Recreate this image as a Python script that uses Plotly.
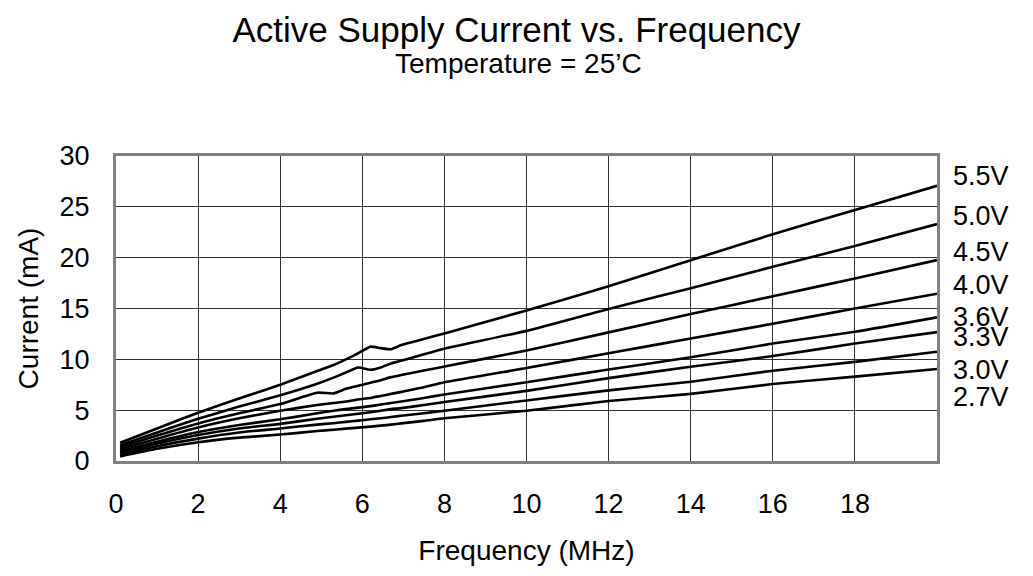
import plotly.graph_objects as go

# frequency points (MHz), shared by all curves
freq = [0.1, 1, 2, 3, 4, 4.9, 5.3, 5.6, 5.9, 6.2, 6.45, 6.7, 6.95, 7.5, 8,
        10, 12, 14, 16, 18, 20]

# supply current (mA) per Vcc
i_55 = [1.8, 3.2, 4.75, 6.15, 7.5, 8.85, 9.45, 10.0, 10.6, 11.25, 11.1, 11.0, 11.4,
        12.0, 12.55, 14.8, 17.2, 19.75, 22.3, 24.7, 27.07]
i_50 = [1.55, 2.8, 4.15, 5.35, 6.46, 7.6, 8.2, 8.7, 9.2, 8.97, 9.2, 9.6, 9.85,
        10.5, 11.05, 12.8, 14.95, 17.0, 19.1, 21.15, 23.3]
i_45 = [1.35, 2.5, 3.7, 4.7, 5.6, 6.72, 6.65, 7.1, 7.4, 7.7, 7.95, 8.25, 8.45,
        8.9, 9.3, 10.87, 12.65, 14.45, 16.2, 17.96, 19.76]
i_40 = [1.15, 2.2, 3.3, 4.2, 4.95, 5.5, 5.7, 5.85, 6.05, 6.2, 6.4, 6.6, 6.8,
        7.25, 7.75, 9.15, 10.6, 12.05, 13.5, 15.0, 16.45]
i_36 = [0.95, 1.9, 2.85, 3.55, 4.1, 4.7, 4.95, 5.1, 5.25, 5.4, 5.55, 5.7, 5.85,
        6.2, 6.55, 7.75, 9.0, 10.2, 11.55, 12.71, 14.13]
i_33 = [0.8, 1.7, 2.55, 3.2, 3.65, 4.15, 4.35, 4.5, 4.65, 4.8, 4.95, 5.1, 5.2,
        5.5, 5.8, 6.9, 8.15, 9.27, 10.32, 11.55, 12.68]
i_30 = [0.6, 1.45, 2.2, 2.8, 3.2, 3.58, 3.72, 3.85, 3.97, 4.1, 4.2, 4.32, 4.45,
        4.7, 4.95, 5.95, 6.95, 7.8, 8.88, 9.75, 10.75]
i_27 = [0.45, 1.2, 1.85, 2.3, 2.6, 2.95, 3.08, 3.18, 3.28, 3.38, 3.48, 3.58, 3.7,
        3.95, 4.2, 4.95, 5.9, 6.6, 7.57, 8.3, 9.05]

labels = ["5.5V", "5.0V", "4.5V", "4.0V", "3.6V", "3.3V", "3.0V", "2.7V"]
label_y = [28.04, 24.09, 20.58, 17.3, 14.19, 12.2, 8.95, 6.32]
series = [i_55, i_50, i_45, i_40, i_36, i_33, i_30, i_27]

x_ticks = [0, 2, 4, 6, 8, 10, 12, 14, 16, 18]

font = "Liberation Sans, Arial, sans-serif"

fig = go.Figure()
for name, vals in zip(labels, series):
    fig.add_trace(go.Scatter(
        x=freq, y=vals, mode="lines", name=name,
        line=dict(color="black", width=2.6, shape="spline", smoothing=0.5),
    ))

ann = []
for name, yv in zip(labels, label_y):
    ann.append(dict(x=20, y=yv, xref="x", yref="y", text=name, showarrow=False,
                    xanchor="left", yanchor="middle", xshift=14,
                    font=dict(size=27, color="black", family=font)))
# subtitle line (plot area is 305 px tall, its bottom 453 px from the top)
ann.append(dict(x=(510 - 108) / 821, y=(453 - 56) / 305, xref="paper", yref="paper",
                text="Temperature = 25’C", showarrow=False,
                xanchor="center", yanchor="middle",
                font=dict(size=28, color="black", family=font)))

fig.update_layout(
    width=1017, height=560,
    margin=dict(l=108, r=88, t=148, b=107),
    paper_bgcolor="white", plot_bgcolor="white",
    showlegend=False,
    font=dict(family=font, color="black", size=27),
    title=dict(text="Active Supply Current vs. Frequency",
               x=0.5, xref="container", y=1 - 22 / 560, yanchor="middle",
               font=dict(size=35, family=font, color="black")),
    annotations=ann,
)
fig.update_xaxes(
    range=[0, 20], tickvals=x_ticks, showgrid=True, gridcolor="#303030", gridwidth=1,
    showline=True, linecolor="#808080", linewidth=3, mirror=True, automargin=False,
    zeroline=False, ticks="", ticklabelstandoff=17,
    title=dict(text="Frequency (MHz)", standoff=22, font=dict(size=28)),
)
fig.update_yaxes(
    range=[0, 30], dtick=5, showgrid=True, gridcolor="#303030", gridwidth=1,
    showline=True, linecolor="#808080", linewidth=3, mirror=True, automargin=False,
    zeroline=False, ticks="", ticklabelstandoff=18,
    title=dict(text="Current (mA)", standoff=13, font=dict(size=28)),
)

fig.write_html("out.html")
